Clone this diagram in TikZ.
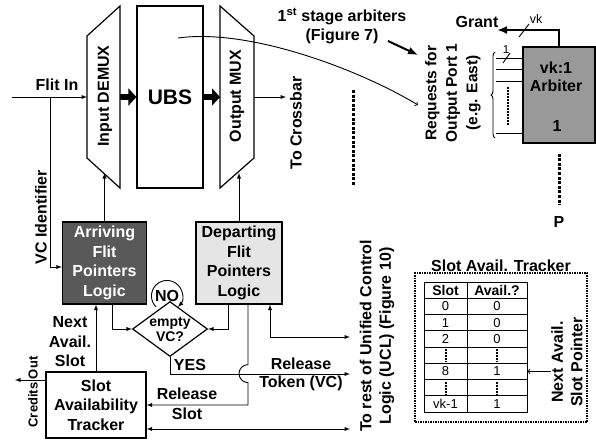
\documentclass[tikz,border=0pt]{standalone}
\usepackage{fontspec}
\setmainfont{Liberation Sans}
\usetikzlibrary{matrix,calc,shapes.geometric,decorations.pathreplacing,arrows.meta}
\newcommand{\lblfont}{\fontsize{16}{19.5}\selectfont\bfseries}
\newcommand{\smallfont}{\fontsize{14}{15}\selectfont\bfseries}
\newcommand{\cellfont}{\fontsize{13}{15}\selectfont}
\newcommand{\tinyfont}{\fontsize{11.5}{13}\selectfont}
\tikzset{
  lbl/.style      = {font=\lblfont, align=center, inner sep=0pt},
  block/.style    = {draw, line width=1.2pt, lbl},
  logic/.style    = {block, minimum width=84, minimum height=82},
  fat/.style      = {line width=6pt, -{Triangle[length=8pt,width=17pt]}},
  heavy/.style    = {line width=2pt, -{Latex[length=10pt,width=8pt]}},
  vdots/.style    = {line width=3pt, dash pattern=on 3pt off 1.6pt},
  celldots/.style = {line width=2pt, dash pattern=on 2pt off 1pt},
}

\begin{document}
\begin{tikzpicture}[x=1pt, y=-1pt, >=latex, line width=0.9pt]
  \useasboundingbox (0,0) rectangle (596,442);

  % datapath: demux, buffer, mux
  \coordinate (dtl) at (87,36);  \coordinate (dtr) at (120,6);
  \coordinate (dbr) at (120,188); \coordinate (dbl) at (87,158);
  \draw[block] (dtl) -- (dtr) -- (dbr) -- (dbl) -- cycle;
  \node[lbl, rotate=90] (demux) at (105,96) {Input DEMUX};
  \node[block, minimum width=66, minimum height=182,
        font=\fontsize{21}{24}\selectfont\bfseries] (ubs) at (170,97) {UBS};
  \coordinate (mtl) at (220,6);  \coordinate (mtr) at (254,36);
  \coordinate (mbr) at (254,158); \coordinate (mbl) at (220,188);
  \draw[block] (mtl) -- (mtr) -- (mbr) -- (mbl) -- cycle;
  \node[lbl, rotate=90] (mux) at (237,96) {Output MUX};
  \coordinate (dbm) at ($(dbl)!0.5!(dbr)$);
  \coordinate (mbm) at ($(mbl)!0.5!(mbr)$);
  \draw[fat] (dtr |- ubs) -- (ubs.west);
  \draw[fat] (ubs.east) -- (mtl |- ubs);

  % flit in / crossbar
  \coordinate (flitsrc) at (12,97);
  \coordinate (vcsplit) at (50,97);
  \draw[->] (flitsrc) -- (dtl |- flitsrc);
  \node[lbl] (flitin) at (57,85) {Flit In};
  \coordinate (cbar) at (286,97);
  \draw[->] (mtr |- cbar) -- (cbar);
  \node[lbl, rotate=90] (tocb) at (296,123) {To Crossbar};
  \draw[vdots] (353,90) -- (353,185);

  % pointer logic
  \node[logic, fill=black!65, text=white] (arr) at (104.5,263)
       {Arriving\\Flit\\Pointers\\Logic};
  \node[logic, fill=black!10, minimum width=86] (dep) at (239,263)
       {Departing\\Flit\\Pointers\\Logic};
  \draw[->] (vcsplit) |- ([yshift=-4pt]arr.west);
  \node[lbl, rotate=90] (vcid) at (41,217) {VC Identifier};
  \draw[->] (arr.north) -- (arr.north |- dbm);
  \draw[->] (dep.north) -- (dep.north |- mbm);

  % empty VC check
  \node[draw, diamond, line width=1.2pt, minimum width=75, minimum height=55,
        aspect=1.36, inner sep=0pt] (evc) at (170,329) {};
  \node[lbl, font=\smallfont] (evctxt) at (evc) {empty\\VC?};
  \draw[->] ([xshift=-14pt,yshift=-6pt]evc.north)
            arc[start angle=135, end angle=405, radius=15.5];
  \node[lbl] (no) at (167,296) {NO};
  \draw[->] ([xshift=8pt]arr.south) |- (evc.west);
  \draw[->] ([xshift=-11pt]dep.south) |- (evc.east);

  % slot availability tracker
  \node[block, minimum width=100, minimum height=66] (trk) at (96,405)
       {Slot\\Availability\\Tracker};
  \draw[->] (trk.north) -- (trk.north |- arr.south);
  \node[lbl] (nas) at (70,342) {Next\\Avail.\\Slot};
  \coordinate (crout) at (15,380);
  \draw[->] (trk.west |- crout) -- (crout);
  \node[lbl, rotate=90, font=\fontsize{13}{15}\selectfont\bfseries] (cred) at (33,392) {Credits Out};

  % to UCL
  \coordinate (uclA) at (350,337);
  \coordinate (uclB) at (350,374);
  \coordinate (uclC) at (350,429);
  \draw[->] (evc.south) |- (uclB);
  \node[lbl] (yes) at (190,365) {YES};
  \node[lbl, font=\fontsize{16}{18}\selectfont\bfseries] (reltok) at (301,374) {Release\\Token (VC)};
  \draw[->] ([xshift=9pt]dep.south) -- ++(0,60)
            arc[start angle=270, end angle=90, radius=9] |- (trk.east);
  \node[lbl, font=\fontsize{16}{20}\selectfont\bfseries] (relsl) at (187,404) {Release\\Slot};
  \draw[<->] (uclA) -| ([xshift=31pt]dep.south);
  \draw[<->] ([yshift=-24pt]trk.east) -- (uclC);
  \node[lbl, rotate=90] (ucl) at (377,336)
       {To rest of Unified Control\\Logic (UCL) (Figure 10)};

  % first stage arbiter
  \node[lbl] (stage) at (342,26) {1\textsuperscript{st} stage arbiters\\(Figure 7)};
  \coordinate (reqin) at (418,105);
  \draw[-to] ([xshift=8pt,yshift=59pt]ubs.center) .. controls (250,28) and (360,70) .. (reqin);
  \coordinate (stgA) at (388,41);
  \coordinate (stgB) at (418,55);
  \draw[heavy] (stgA) -- (stgB);
  \node[lbl, rotate=90, font=\fontsize{15.5}{20.5}\selectfont\bfseries] (req) at (453,93)
       {Requests for\\Output Port 1\\(e.g. East)};
  \node[draw, fill=black!40, line width=1.2pt, minimum width=72, minimum height=96] (arb) at (559,95) {};
  \node[lbl, font=\fontsize{16}{18}\selectfont\bfseries] (arbname) at (556,77) {vk:1\\Arbiter};
  \node[lbl] (arbone) at (557,126) {1};
  \draw[decorate, decoration={brace, amplitude=4pt}] (495,138) -- (495,52);
  \foreach \y in {58,69,81,133}
    \draw (496,\y) -- (arb.west |- 0,\y);
  \draw (503,63) -- (510,53);
  \node[lbl, font=\tinyfont] (reqone) at (506,50) {1};
  \draw[celldots] (508,87) -- (508,125);
  \coordinate (grantout) at (497,30);
  \draw[heavy] (arb.north) |- (grantout);
  \node[lbl] (grant) at (477,22) {Grant};
  \draw (519,37) -- (529,24);
  \node[lbl, font=\fontsize{12.5}{14}\selectfont] (vk) at (536,19) {vk};
  \node[lbl] (pp) at (559,222) {P};
  \draw[vdots] ([yshift=-10pt]arb.south) -- ([yshift=11pt]pp.north);

  % slot table
  \node[draw, densely dotted, line width=1.5pt, minimum width=172, minimum height=149,
        label={[lbl]above:Slot Avail. Tracker}] (sat) at (501,347.5) {};
  \matrix (tab)
    [
      matrix of nodes,
      nodes           = {draw, line width=0.9pt, minimum height=16.25, inner sep=0pt,
                         font=\cellfont, anchor=center},
      column sep      = -0.9pt,
      row sep         = -0.9pt,
      column 1/.style = {nodes={minimum width=43}},
      column 2/.style = {nodes={minimum width=60}},
      row 1/.style    = {nodes={font=\smallfont}}
    ] at (475.5,347)
    {
      Slot            & Avail.?         \\
      0               & 0               \\
      1               & 0               \\
      2               & 0               \\
      \phantom{0}     & \phantom{0}     \\
      8               & 1               \\
      \phantom{0}     & \phantom{0}     \\
      vk-1            & 1               \\
    };
  \foreach \r in {5,7}
    \foreach \c in {1,2}
      \draw[celldots] ([yshift=-2.5pt]tab-\r-\c.north) -- ([yshift=2.5pt]tab-\r-\c.south);
  \node[lbl, rotate=90] (nasp) at (567,362) {Next Avail.\\Slot Pointer};
  \draw[-to] (nasp.north |- tab-6-2.east) -- (tab-6-2.east);
\end{tikzpicture}
\end{document}
